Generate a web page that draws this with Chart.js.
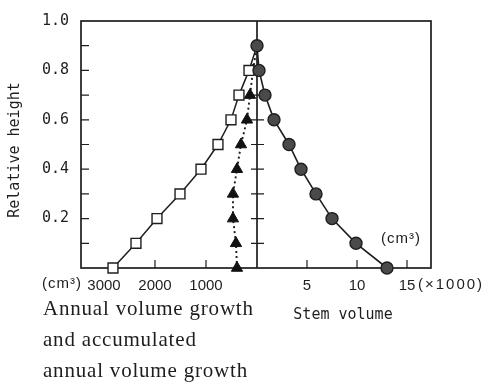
<!DOCTYPE html>
<html>
<head>
<meta charset="utf-8">
<script src="https://cdn.jsdelivr.net/npm/chart.js@4"></script>
<style>
  html, body { margin: 0; padding: 0; background: #fff; }
  #wrap { width: 486px; height: 384px; }
</style>
</head>
<body>
<div id="wrap"><canvas id="myChart" width="486" height="384"></canvas></div>
<script>
// relative height of each measuring point
const relHeight = [0.0, 0.1, 0.2, 0.3, 0.4, 0.5, 0.6, 0.7, 0.8, 0.9];
// stem volume (x1000 cm3), right side
const stemVolume = [13.0, 9.9, 7.5, 5.9, 4.4, 3.2, 1.7, 0.8, 0.2, 0];
// accumulated annual volume growth (cm3), left side, squares
const accumGrowth = [2824, 2373, 1961, 1510, 1098, 765, 510, 353, 157, 0];
// annual volume growth (cm3), left side, triangles
const annualGrowth = [392, 412, 471, 471, 392, 314, 196, 137, 78, 0];

const yTicks = [0.2, 0.4, 0.6, 0.8, 1.0];
const yMinorTicks = [0.1, 0.2, 0.3, 0.4, 0.5, 0.6, 0.7, 0.8, 0.9];
const growthTicks = [1000, 2000, 3000];
const volumeTicks = [5, 10, 15];

const ink = '#1e1e1e';

const toPoints = (xs) => xs.map((v, i) => ({ x: v, y: relHeight[i] }));
// no marker at the apex for the left-hand series
const apexHidden = (r) => relHeight.map(h => h >= 0.9 ? 0 : r);

const decor = {
  id: 'decor',
  beforeDatasetsDraw(chart) {
    const ctx = chart.ctx;
    const ca = chart.chartArea;
    const y = chart.scales.y, xR = chart.scales.x, xL = chart.scales.xL;
    ctx.save();
    ctx.strokeStyle = ink;
    ctx.lineWidth = 1.7;
    ctx.strokeRect(ca.left, ca.top, ca.right - ca.left, ca.bottom - ca.top);
    const cx = xR.getPixelForValue(0);
    ctx.beginPath();
    ctx.moveTo(cx, ca.top);
    ctx.lineTo(cx, ca.bottom);
    ctx.stroke();
    ctx.lineWidth = 1.2;
    ctx.beginPath();
    yMinorTicks.forEach(v => {
      const py = y.getPixelForValue(v);
      ctx.moveTo(ca.left, py); ctx.lineTo(ca.left + 8, py);
      if (v < 0.85) { ctx.moveTo(cx - 6, py); ctx.lineTo(cx + 7, py); }
    });
    growthTicks.forEach(v => {
      if (v >= 3000) return;
      const px = xL.getPixelForValue(v);
      ctx.moveTo(px, ca.bottom); ctx.lineTo(px, ca.bottom - 8);
    });
    volumeTicks.forEach(v => {
      const px = xR.getPixelForValue(v);
      ctx.moveTo(px, ca.bottom); ctx.lineTo(px, ca.bottom - 8);
    });
    ctx.stroke();
    ctx.restore();
  },
  afterDraw(chart) {
    const ctx = chart.ctx;
    ctx.save();
    ctx.fillStyle = ink;
    ctx.textBaseline = 'middle';
    ctx.font = '15px "DejaVu Sans Mono"';
    ctx.save();
    ctx.translate(15, 150);
    ctx.rotate(-Math.PI / 2);
    ctx.textAlign = 'center';
    ctx.fillText('Relative height', 0, 0);
    ctx.restore();
    ctx.textAlign = 'center';
    ctx.fillText('Stem volume', 343, 315);
    ctx.font = '15px "Liberation Sans"';
    ctx.letterSpacing = '1px';
    ctx.fillText('(cm³)', 62, 284);
    ctx.fillText('(cm³)', 401, 239);
    ctx.textAlign = 'left';
    ctx.letterSpacing = '2px';
    ctx.fillText('(×1000)', 418, 285);
    ctx.textBaseline = 'alphabetic';
    ctx.font = '21px "Liberation Serif"';
    ctx.letterSpacing = '0.8px';
    ctx.fillText('Annual volume growth', 43, 315);
    ctx.fillText('and accumulated', 43, 346);
    ctx.fillText('annual volume growth', 43, 377);
    ctx.restore();
  }
};

const tickFont = { family: 'Liberation Sans', size: 15 };

new Chart(document.getElementById('myChart').getContext('2d'), {
  type: 'line',
  data: {
    datasets: [
      {
        label: 'Stem volume',
        data: toPoints(stemVolume),
        xAxisID: 'x', yAxisID: 'y',
        borderColor: ink, borderWidth: 1.6,
        pointStyle: 'circle', pointRadius: 6,
        pointBackgroundColor: '#4a4a4a', pointBorderColor: ink, pointBorderWidth: 1.4,
        clip: false
      },
      {
        label: 'Accumulated annual volume growth',
        data: toPoints(accumGrowth),
        xAxisID: 'xL', yAxisID: 'y',
        borderColor: ink, borderWidth: 1.5,
        pointStyle: 'rect', pointRadius: apexHidden(7),
        pointBackgroundColor: '#fff', pointBorderColor: ink, pointBorderWidth: 1.4,
        clip: false
      },
      {
        label: 'Annual volume growth',
        data: toPoints(annualGrowth),
        xAxisID: 'xL', yAxisID: 'y',
        borderColor: ink, borderWidth: 1.9, borderDash: [2, 3],
        pointStyle: 'triangle', pointRadius: apexHidden(6.5),
        pointBackgroundColor: '#111', pointBorderColor: '#111', pointBorderWidth: 1,
        clip: false
      }
    ]
  },
  options: {
    responsive: false,
    animation: false,
    layout: { padding: { top: 16, right: 55, left: 0, bottom: 0 } },
    plugins: { legend: { display: false }, tooltip: { enabled: false } },
    scales: {
      y: {
        type: 'linear', position: 'left', min: 0, max: 1,
        afterFit: s => { s.width = 81; },
        afterBuildTicks: s => { s.ticks = yTicks.map(v => ({ value: v })); },
        ticks: {
          callback: v => Number(v).toFixed(1),
          font: { family: 'DejaVu Sans Mono', size: 15 },
          color: ink, padding: 12
        },
        grid: { display: false, drawTicks: false },
        border: { display: false }
      },
      xL: {
        // zero-height box sharing the bottom edge; mirror keeps its labels unclipped
        type: 'linear', position: 'bottom', reverse: true,
        min: -3412, max: 3451, weight: 0,
        afterFit: s => { s.height = 0; },
        afterBuildTicks: s => { s.ticks = growthTicks.map(v => ({ value: v })); },
        ticks: { font: tickFont, color: ink, mirror: true, padding: -27, maxRotation: 0, callback: v => String(v) },
        grid: { display: false, drawTicks: false },
        border: { display: false }
      },
      x: {
        type: 'linear', position: 'bottom',
        min: -17.6, max: 17.4, weight: 1,
        afterFit: s => { s.height = 116; },
        afterBuildTicks: s => { s.ticks = volumeTicks.map(v => ({ value: v })); },
        ticks: { font: tickFont, color: ink, padding: 9, maxRotation: 0, callback: v => String(v) },
        grid: { display: false, drawTicks: false },
        border: { display: false }
      }
    }
  },
  plugins: [decor]
});
</script>
</body>
</html>
